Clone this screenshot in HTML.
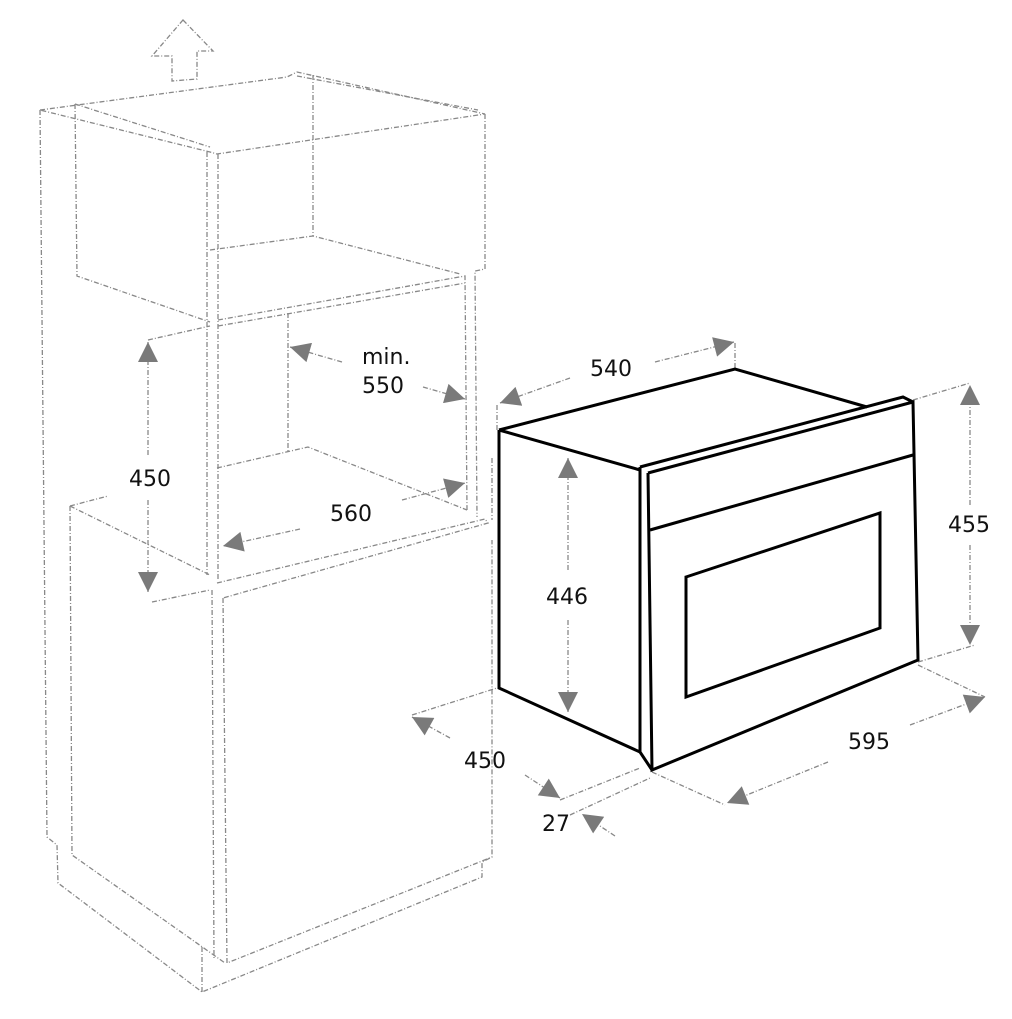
<!DOCTYPE html>
<html><head><meta charset="utf-8"><style>
html,body{margin:0;padding:0;background:#fff;width:1012px;height:1019px;overflow:hidden}
svg{display:block}
text{font-family:"DejaVu Sans","Liberation Sans",sans-serif;font-size:22px;fill:#111}
</style></head><body>
<svg width="1012" height="1019" viewBox="0 0 1012 1019" xmlns="http://www.w3.org/2000/svg">
<defs>
<marker id="ah" viewBox="0 0 10 10" refX="10" refY="5" markerWidth="32" markerHeight="20" markerUnits="userSpaceOnUse" orient="auto">
<path d="M0,0 L10,5 L0,10 z" fill="#7a7a7a"/></marker>
</defs>
<g fill="none" stroke="#888" stroke-width="1.3" stroke-dasharray="5 2 1 2">
<path d="M183,20 L213,51 L197,51 L197,79 L172,81 L172,56 L152,56 Z"/>
<path d="M40,110 L287,77 L297,72 L485,114 L217,154 L210,152 L40,110"/>
<path d="M75,104 L210,147"/>
<path d="M297,76 L478,110"/>
<path d="M313,75 L313,236"/>
<path d="M75,104 L77,276 L210,322"/>
<path d="M210,250 L313,236 L460,274"/>
<path d="M485,114 L485,269 L475,271 L477,517"/>
<path d="M218,320 L465,276 L467,510"/>
<path d="M218,326 L465,283"/>
<path d="M40,110 L47,837 L57,845 L58,883 L202,992 L482,877 L482,862 L492,857 L492,540"/>
<path d="M492,458 L492,520"/>
<path d="M70,506 L108,496"/>
<path d="M70,506 L72,855 L225,963"/>
<path d="M70,506 L210,575"/>
<path d="M202,947 L202,992"/>
<path d="M207,152 L207,575"/>
<path d="M218,154 L218,580"/>
<path d="M212,590 L214,960"/>
<path d="M223,598 L227,963 L492,857"/>
<path d="M217,583 L485,519 L488,523 L223,598"/>
<path d="M288,313 L288,451"/>
<path d="M217,468 L308,447 L467,510"/>
<path d="M148,340 L210,326"/>
<path d="M152,602 L210,590"/>
<path d="M497,405 L497,430"/>
<path d="M735,343 L735,369"/>
<path d="M913,400 L970,383"/>
<path d="M918,662 L975,645"/>
<path d="M918,665 L985,697"/>
<path d="M652,772 L725,805"/>
<path d="M412,715 L497,688"/>
<path d="M560,800 L640,768"/>
<path d="M570,815 L650,778"/>
</g>
<g stroke="#888" stroke-width="1.3" stroke-dasharray="5 2 1 2" fill="none">
<line x1="148" y1="455" x2="148" y2="342" marker-end="url(#ah)"/>
<line x1="148" y1="500" x2="148" y2="592" marker-end="url(#ah)"/>
<line x1="342" y1="362" x2="290" y2="347" marker-end="url(#ah)"/>
<line x1="423" y1="387" x2="465" y2="399" marker-end="url(#ah)"/>
<line x1="300" y1="529" x2="223" y2="546" marker-end="url(#ah)"/>
<line x1="402" y1="500" x2="465" y2="483" marker-end="url(#ah)"/>
<line x1="570" y1="378" x2="500" y2="403" marker-end="url(#ah)"/>
<line x1="655" y1="362" x2="734" y2="342" marker-end="url(#ah)"/>
<line x1="970" y1="505" x2="970" y2="385" marker-end="url(#ah)"/>
<line x1="970" y1="545" x2="970" y2="645" marker-end="url(#ah)"/>
<line x1="568" y1="570" x2="568" y2="458" marker-end="url(#ah)"/>
<line x1="568" y1="620" x2="568" y2="712" marker-end="url(#ah)"/>
<line x1="828" y1="762" x2="727" y2="803" marker-end="url(#ah)"/>
<line x1="910" y1="725" x2="985" y2="697" marker-end="url(#ah)"/>
<line x1="450" y1="738" x2="412" y2="717" marker-end="url(#ah)"/>
<line x1="525" y1="775" x2="560" y2="798" marker-end="url(#ah)"/>
<line x1="615" y1="836" x2="582" y2="814" marker-end="url(#ah)"/>
</g>
<g fill="none" stroke="#000" stroke-width="3" stroke-linejoin="miter">
<path d="M499,430 L735,369 L867,407"/>
<path d="M499,430 L640,470"/>
<path d="M499,430 L499,688 L640,752"/>
<path d="M640,467 L903,397 L913,402"/>
<path d="M640,467 L640,752 L652,770"/>
<path d="M648,473 L913,402 L918,660 L652,770 L648,473"/>
<path d="M650,530 L913,455"/>
<path d="M686,577 L880,513 L880,628 L686,697 Z"/>
</g>
<text x="129" y="486">450</text>
<text x="362" y="364">min.</text>
<text x="362" y="393">550</text>
<text x="330" y="521">560</text>
<text x="590" y="376">540</text>
<text x="948" y="532">455</text>
<text x="546" y="604">446</text>
<text x="848" y="749">595</text>
<text x="464" y="768">450</text>
<text x="542" y="831">27</text>
</svg>
</body></html>
